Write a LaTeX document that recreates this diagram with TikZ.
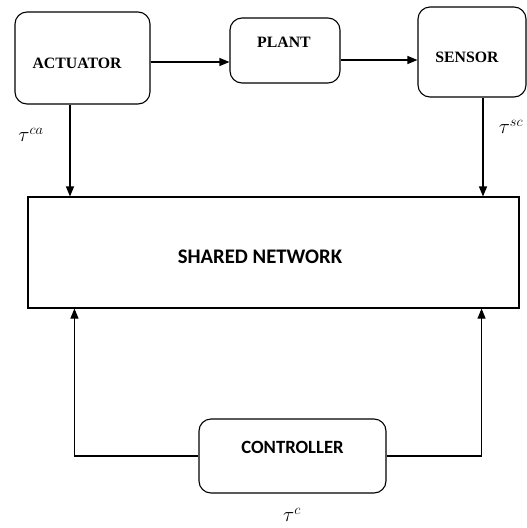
\documentclass[tikz,border=0pt]{standalone}
\usepackage{fontspec}
\usepackage{mathtools}
\usetikzlibrary{arrows.meta}
\newfontfamily\serifbox{Liberation Serif}
\newfontfamily\sansbox{Carlito}

\begin{document}
\begin{tikzpicture}[x=1pt,y=1pt]
		\tikzstyle{every node}+=[inner sep=0pt]
		\tikzstyle{blk}=[draw=black,line width=1.1pt,rounded corners=12pt]
		\tikzstyle{toptxt}=[font=\serifbox\bfseries\fontsize{15.8}{18}\selectfont]
		\tikzstyle{lowtxt}=[font=\sansbox\bfseries\fontsize{20.7}{24}\selectfont]
		\tikzstyle{deltxt}=[font=\fontsize{22}{26}\selectfont]
		\tikzstyle{arr}=[line width=1.1pt,-{Triangle[length=10pt,width=8pt]}]
		\useasboundingbox (0,0) rectangle (527,-528);
		% blocks of the loop
		\node [blk,minimum width=135,minimum height=92] (act) at (82.5,-58) {};
		\node [toptxt] (act-t) at (77,-63) {ACTUATOR};
		\node [blk,minimum width=110,minimum height=65] (plant) at (285,-50.5) {};
		\node [toptxt] (plant-t) at (284,-42) {PLANT};
		\node [blk,minimum width=108,minimum height=90] (sens) at (472,-52) {};
		\node [toptxt] (sens-t) at (467,-57) {SENSOR};
		\node [draw=black,line width=1.1pt,minimum width=491,minimum height=111] (net) at (273.5,-252.5) {};
		\node [lowtxt] (net-t) at (260,-257) {SHARED NETWORK};
		\node [blk,minimum width=187,minimum height=74] (ctrl) at (292.5,-456) {};
		\node [lowtxt,font=\sansbox\bfseries\fontsize{18.7}{22}\selectfont] (ctrl-t) at (292.5,-447) {CONTROLLER};
		% delays
		\node [deltxt] (tca) at (31,-135) {$\tau^{ca}$};
		\node [deltxt] (tsc) at (511,-127) {$\tau^{sc}$};
		\node [deltxt] (tc) at (292,-515) {$\tau^{c}$};
		% connections
		\draw [arr] ([yshift=-4pt]act.east) -- ([yshift=-4pt]act.east -| plant.west);
		\draw [arr] ([yshift=-9.5pt]plant.east) -- ([yshift=-9.5pt]plant.east -| sens.west);
		\draw [arr] ([xshift=-12.5pt]act.south) -- ([xshift=-12.5pt]act.south |- net.north);
		\draw [arr] ([xshift=11pt]sens.south) -- ([xshift=11pt]sens.south |- net.north);
		\draw [arr] (ctrl.west) -| ([xshift=47pt]net.south west);
		\draw [arr] (ctrl.east) -| ([xshift=-38pt]net.south east);
	\end{tikzpicture}
\end{document}
